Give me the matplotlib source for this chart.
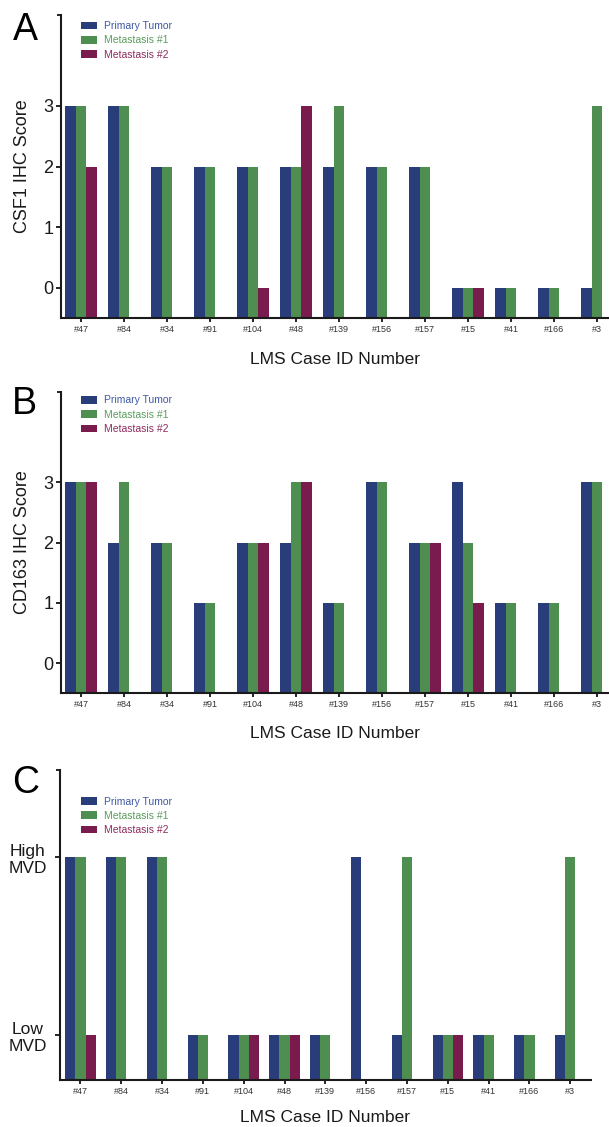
import matplotlib.pyplot as plt
import numpy as np

plt.rcParams['font.family'] = ['Liberation Sans', 'DejaVu Sans']

cases = ['#47', '#84', '#34', '#91', '#104', '#48', '#139', '#156', '#157',
         '#15', '#41', '#166', '#3']
series = ['Primary Tumor', 'Metastasis #1', 'Metastasis #2']
n = np.nan

# CSF1 IHC score (panel A)
csf1_primary = [3, 3, 2, 2, 2, 2, 2, 2, 2, 0, 0, 0, 0]
csf1_met1 = [3, 3, 2, 2, 2, 2, 3, 2, 2, 0, 0, 0, 3]
csf1_met2 = [2, n, n, n, 0, 3, n, n, n, 0, n, n, n]

# CD163 IHC score (panel B)
cd163_primary = [3, 2, 2, 1, 2, 2, 1, 3, 2, 3, 1, 1, 3]
cd163_met1 = [3, 3, 2, 1, 2, 3, 1, 3, 2, 2, 1, 1, 3]
cd163_met2 = [3, n, n, n, 2, 3, n, n, 2, 1, n, n, n]

# MVD (panel C): 1 = Low, 2 = High
mvd_primary = [2, 2, 2, 1, 1, 1, 1, 2, 1, 1, 1, 1, 1]
mvd_met1 = [2, 2, 2, 1, 1, 1, 1, n, 2, 1, 1, 1, 2]
mvd_met2 = [1, n, n, n, 1, 1, n, n, n, 1, n, n, n]

colors = ['#293d7b', '#4f8e51', '#7a1b4d']
text_colors = ['#3f58a6', '#5a9e5d', '#8c2c60']

W, H = 609, 1127
fig = plt.figure(figsize=(W / 100, H / 100), dpi=100)


def px_axes(left, right, top, bottom):
    return fig.add_axes([left / W, 1 - bottom / H, (right - left) / W, (bottom - top) / H])


def panel(ax, data, ylim, xlim, yticks, yticklabels, ylabel, leg_xy, xlab_pad, ytick_size, ypad=2):
    x = np.arange(len(cases))
    width = 0.25
    bars = []
    for i, vals in enumerate(data):
        vals = np.array(vals, dtype=float)
        b = ax.bar(x + (i - 1) * width, vals - ylim[0], width, bottom=ylim[0],
                   color=colors[i], linewidth=0, label=series[i])
        bars.append(b)
    ax.set_xlim(xlim)
    ax.set_ylim(ylim)
    for s in ['top', 'right']:
        ax.spines[s].set_visible(False)
    for s in ['left', 'bottom']:
        ax.spines[s].set_linewidth(1.5)
        ax.spines[s].set_color('#1a1a1a')
    ax.set_xticks(x)
    ax.set_xticklabels(cases, fontsize=6.5, color='#333333')
    ax.tick_params(axis='x', length=3, width=1.2, pad=2)
    ax.set_yticks(yticks)
    ax.set_yticklabels(yticklabels, fontsize=ytick_size, color='#1a1a1a')
    ax.set_yticks([ylim[1]], minor=True)
    ax.tick_params(axis='y', which='minor', length=3, width=1.2)
    ax.tick_params(axis='y', which='major', length=3.5, width=1.2, pad=ypad)
    ax.set_xlabel('LMS Case ID Number', fontsize=12.5, labelpad=xlab_pad, color='#1a1a1a')
    if ylabel:
        ax.set_ylabel(ylabel, fontsize=13, color='#1a1a1a')
        ax.yaxis.set_label_coords(-0.055, 0.5)
    leg = ax.legend(handles=bars, loc='upper left', bbox_to_anchor=leg_xy,
                    frameon=False, fontsize=7.5, handlelength=1.55, handleheight=0.75,
                    handletextpad=0.65, labelspacing=0.42, borderpad=0, borderaxespad=0)
    for t, c in zip(leg.get_texts(), text_colors):
        t.set_color(c)


axA = px_axes(61, 609, 15, 318)
panel(axA, [csf1_primary, csf1_met1, csf1_met2], (-0.5, 4.5), (-0.465, 12.28),
      [0, 1, 2, 3], ['0', '1', '2', '3'], 'CSF1 IHC Score', (0.0365, 0.98), 13, 13)

axB = px_axes(61, 609, 391.7, 693.3)
panel(axB, [cd163_primary, cd163_met1, cd163_met2], (-0.5, 4.5), (-0.465, 12.28),
      [0, 1, 2, 3], ['0', '1', '2', '3'], 'CD163 IHC Score', (0.0365, 0.988), 12, 13)

axC = px_axes(60, 590.7, 770, 1080)
panel(axC, [mvd_primary, mvd_met1, mvd_met2], (0.75, 2.49), (-0.5, 12.5),
      [1, 2], ['Low\nMVD', 'High\nMVD'], None, (0.0396, 0.9145), 10, 12.5, ypad=6)
for t in axC.get_yticklabels():
    t.set_multialignment('center')

fig.text(13 / W, 1 - 30 / H, 'A', fontsize=27, va='center', ha='left')
fig.text(12 / W, 1 - 404 / H, 'B', fontsize=27, va='center', ha='left')
fig.text(12 / W, 1 - 783 / H, 'C', fontsize=27, va='center', ha='left')

fig.savefig('out.png', dpi=100)
